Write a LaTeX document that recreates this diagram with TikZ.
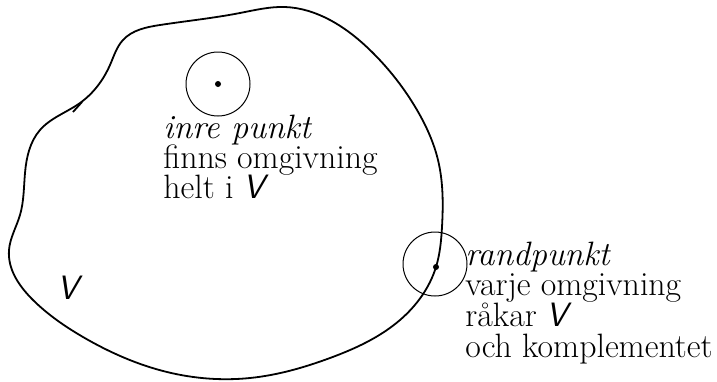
\documentclass[tikz,border=0pt]{standalone}
\usetikzlibrary{hobby}
\begin{document}
\begin{tikzpicture}[x=0.5pt,y=-0.5pt,
  region/.style={line width=0.9pt,line join=round},
  nbhd/.style={line width=0.5pt},
  pt/.style={fill=black},
  lbl/.style={anchor=base west,inner sep=0pt,font=\fontsize{16.9}{15}\selectfont},
  setV/.style={font=\fontsize{16.9}{15}\selectfont\sffamily\itshape}]
\useasboundingbox (0,0) rectangle (717,381);
% region V
\draw[region] plot[closed hobby] coordinates {
 (80,103) (110,65) (123,40) (160,25) (240,13) (285,7)
 (330,20) (373,53) (417,110) (438,160) (442,227) (436,267) (400,320)
 (330,358) (250,378) (167,372) (83,337) (33,300) (9,250)
 (20,215) (25,173) (40,130)};
\draw[region] (82,102) -- (73,112);
% interior point
\coordinate (ip) at (218,84);
\draw[nbhd] (ip) circle (32);
\fill[pt] (ip) circle (3);
% boundary point
\coordinate (bp) at (436,267);
\draw[nbhd] (435,264) circle (32);
\fill[pt] (bp) circle (3);
% labels
\node[lbl] (i1) at (163,138) {\itshape inre punkt};
\node[lbl] (i2) at (163,168) {finns omgivning};
\node[lbl] (i3) at (163,198) {helt i \textsf{\itshape V}};
\node[lbl] (r1) at (465,265) {\itshape randpunkt};
\node[lbl] (r2) at (465,295) {varje omgivning};
\node[lbl] (r3) at (465,326) {råkar \textsf{\itshape V}};
\node[lbl] (r4) at (465,357) {och komplementet};
\node[lbl,setV] (v) at (57,299) {V};
\end{tikzpicture}
\end{document}
